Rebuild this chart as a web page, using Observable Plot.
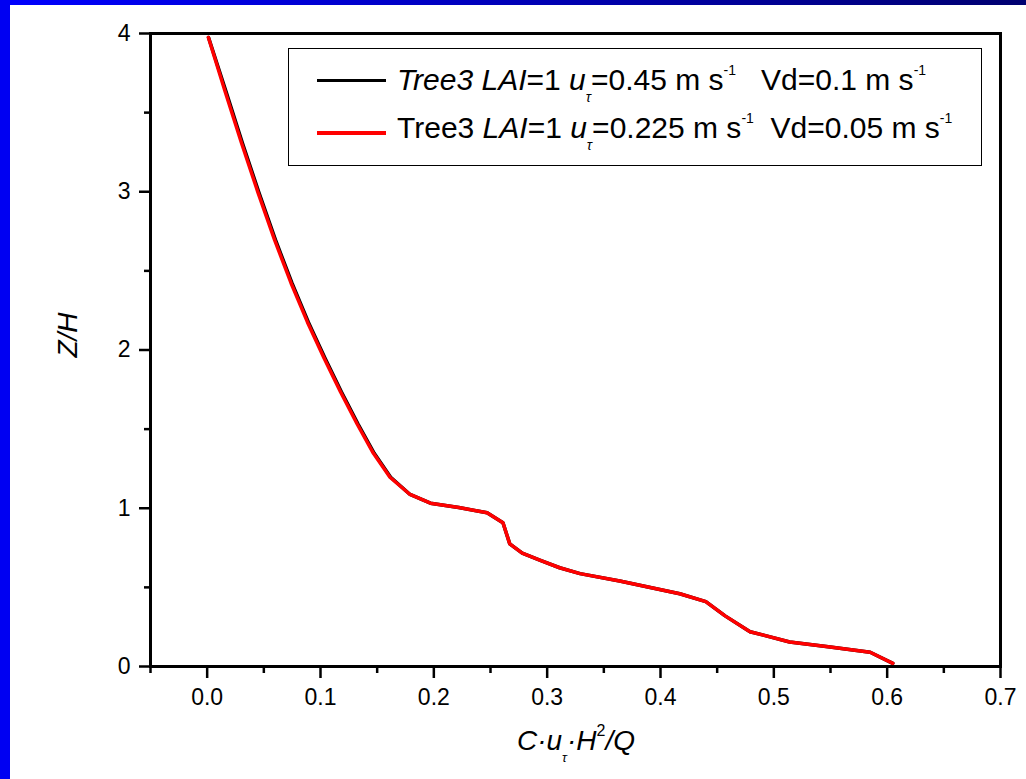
<!DOCTYPE html>
<html>
<head>
<meta charset="utf-8">
<script src="https://cdn.jsdelivr.net/npm/d3@7"></script>
<script src="https://cdn.jsdelivr.net/npm/@observablehq/plot@0.6"></script>
<style>
  html, body { margin: 0; padding: 0; background: #fff; overflow: hidden; }
  #wrap { position: relative; width: 1026px; height: 779px; font-family: "Liberation Sans", Arial, sans-serif; }
  #chart { position: absolute; left: 0; top: 0; }
  #chart svg text { font-size: 23px; fill: #000; }
  .topbar { position: absolute; left: 0; top: 0; width: 1026px; height: 5px; background: linear-gradient(to right, #0000ff, #000070); }
  .leftbar { position: absolute; left: 0; top: 0; width: 10px; height: 779px; background: #0000f2; }
  .legend { position: absolute; left: 288px; top: 48px; width: 694px; height: 118px; border: 1.5px solid #000; box-sizing: border-box; background: #fff; }
  .sw { position: absolute; left: 317px; width: 69px; height: 3.5px; }
  .txt { position: absolute; left: 397px; font-size: 30px; line-height: 30px; color: #000; white-space: pre; }
  .sub { font-size: 14px; position: relative; top: 12px; font-style: italic; }
  .sup { font-size: 14px; position: relative; top: -15px; }
  .xtitle { position: absolute; left: 576px; top: 727px; transform: translateX(-50%); font-size: 28px; line-height: 28px; font-style: italic; white-space: nowrap; }
  .xtitle .sub2 { font-size: 13px; position: relative; top: 12px; }
  .xtitle .sup2 { font-size: 16px; position: relative; top: -14px; font-style: normal; }
  .ytitle { position: absolute; left: 68px; top: 335px; transform: translate(-50%, -50%) rotate(-90deg); font-size: 28px; line-height: 28px; font-style: italic; white-space: nowrap; }
</style>
</head>
<body>
<div id="wrap">
  <div id="chart"></div>
  <div class="topbar"></div>
  <div class="leftbar"></div>
  <div class="legend"></div>
  <div id="legendItems"></div>
  <div class="xtitle">C·u<span class="sub2">τ</span>·H<span class="sup2">2</span>/Q</div>
  <div class="ytitle">Z/H</div>
</div>
<script>
// Series 1: Tree3 LAI=1 u_tau=0.45 m/s, Vd=0.1 m/s (black)
const blackX = [0.0012, 0.0165, 0.0311, 0.0456, 0.0602, 0.0747, 0.0893, 0.1039, 0.1184, 0.1330, 0.1474, 0.1619, 0.179, 0.197, 0.222, 0.247, 0.261, 0.267, 0.278, 0.294, 0.311, 0.329, 0.364, 0.417, 0.440, 0.457, 0.479, 0.514, 0.548, 0.585, 0.605];
const blackY = [3.975, 3.637, 3.308, 2.996, 2.697, 2.425, 2.176, 1.949, 1.736, 1.534, 1.347, 1.196, 1.087, 1.032, 1.005, 0.971, 0.908, 0.775, 0.716, 0.67, 0.624, 0.587, 0.54, 0.46, 0.41, 0.32, 0.22, 0.155, 0.125, 0.09, 0.02];
// Series 2: Tree3 LAI=1 u_tau=0.225 m/s, Vd=0.05 m/s (red)
const redX = [0.0011, 0.0157, 0.0303, 0.0448, 0.0594, 0.0739, 0.0885, 0.1031, 0.1176, 0.1322, 0.1467, 0.1613, 0.179, 0.197, 0.222, 0.247, 0.261, 0.267, 0.278, 0.294, 0.311, 0.329, 0.364, 0.417, 0.440, 0.457, 0.479, 0.514, 0.548, 0.585, 0.605];
const redY = [3.975, 3.637, 3.308, 2.996, 2.697, 2.425, 2.176, 1.949, 1.736, 1.534, 1.347, 1.196, 1.087, 1.032, 1.005, 0.971, 0.908, 0.775, 0.716, 0.67, 0.624, 0.587, 0.54, 0.46, 0.41, 0.32, 0.22, 0.155, 0.125, 0.09, 0.02];

const xMajor = [0.0, 0.1, 0.2, 0.3, 0.4, 0.5, 0.6, 0.7];
const xMinor = [-0.05, 0.05, 0.15, 0.25, 0.35, 0.45, 0.55, 0.65];
const yMajor = [0, 1, 2, 3, 4];
const yMinor = [0.5, 1.5, 2.5, 3.5];

const black = blackX.map((x, i) => ({x, y: blackY[i]}));
const red = redX.map((x, i) => ({x, y: redY[i]}));

const chart = Plot.plot({
  width: 1026,
  height: 779,
  marginLeft: 150,
  marginRight: 26,
  marginTop: 33,
  marginBottom: 113,
  style: {fontFamily: "'Liberation Sans', Arial, sans-serif", fontSize: "23px", color: "#000", background: "transparent", overflow: "visible"},
  x: {domain: [-0.05, 0.7]},
  y: {domain: [0, 4]},
  marks: [
    Plot.axisX({ticks: xMinor, tickSize: 7, tickFormat: () => "", strokeWidth: 2.5, label: null}),
    Plot.axisX({ticks: xMajor, tickSize: 12, tickPadding: 10, tickFormat: d3.format(".1f"), strokeWidth: 2.5, label: null}),
    Plot.axisY({ticks: yMinor, tickSize: 6, tickFormat: () => "", strokeWidth: 2.5, label: null}),
    Plot.axisY({ticks: yMajor, tickSize: 11, tickPadding: 9, tickFormat: d3.format("d"), strokeWidth: 2.5, label: null}),
    Plot.line(black, {x: "x", y: "y", stroke: "#000", strokeWidth: 3.5}),
    Plot.line(red, {x: "x", y: "y", stroke: "#ff0000", strokeWidth: 3.5}),
    Plot.frame({stroke: "#000", strokeWidth: 3})
  ]
});
document.getElementById("chart").appendChild(chart);

const legendRows = [
  {color: "#000", swatchY: 78.5, textTop: 64.5, html: '<i>Tree3 LAI</i>=1 <i>u</i><span class="sub">τ</span>=0.45 m s<span class="sup">-1</span>   Vd=0.1 m s<span class="sup">-1</span>'},
  {color: "#ff0000", swatchY: 131, textTop: 112.5, html: 'Tree3 <i>LAI</i>=1 <i>u</i><span class="sub">τ</span>=0.225 m s<span class="sup">-1</span>  Vd=0.05 m s<span class="sup">-1</span>'}
];
const li = document.getElementById("legendItems");
legendRows.forEach(r => {
  const sw = document.createElement("div");
  sw.className = "sw";
  sw.style.top = r.swatchY + "px";
  sw.style.background = r.color;
  li.appendChild(sw);
  const t = document.createElement("div");
  t.className = "txt";
  t.style.top = r.textTop + "px";
  t.innerHTML = r.html;
  li.appendChild(t);
});
</script>
</body>
</html>
